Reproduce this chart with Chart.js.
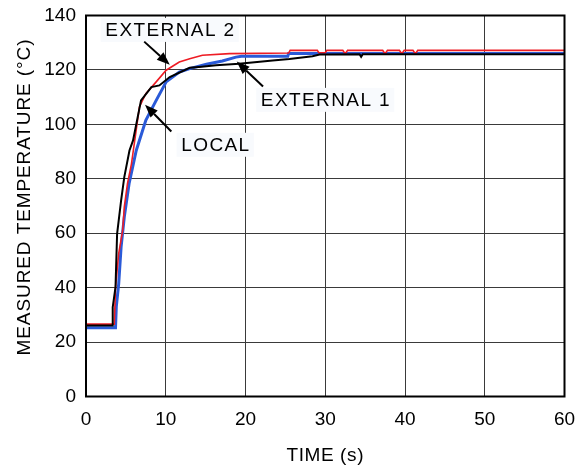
<!DOCTYPE html>
<html>
<head>
<meta charset="utf-8">
<script src="https://cdn.jsdelivr.net/npm/chart.js@4/dist/chart.umd.min.js"></script>
<style>
  html, body { margin: 0; padding: 0; background: #ffffff; }
  #wrap { width: 584px; height: 470px; position: relative; }
</style>
</head>
<body>
<div id="wrap"><canvas id="c" width="584" height="470"></canvas></div>
<script>
// ---- data ----
const xTicks = [0, 10, 20, 30, 40, 50, 60];
const yTicks = [0, 20, 40, 60, 80, 100, 120, 140];

// LOCAL (black)
const localTime = [0, 3.28, 3.35, 3.7, 3.9, 4.4, 4.8, 5.45, 5.9, 6.9, 8.2, 9.2, 10.5, 13.0, 14.5, 16.3, 19.2, 23.4, 25.5, 28.4, 29.3, 34.3, 34.5, 34.7, 60];
const localTemp = [26.1, 26.1, 32.8, 40.2, 59.8, 72.0, 80.6, 90.4, 94.1, 108.8, 113.7, 114.3, 117.4, 120.8, 121.2, 121.7, 122.3, 123.5, 124.0, 125.0, 125.7, 125.8, 124.8, 125.8, 125.8];

// EXTERNAL 2 (red)
const ext2Time = [0, 3.55, 3.7, 4.1, 4.6, 4.8, 5.2, 5.7, 6.7, 7.5, 8.8, 10.05, 11.7, 13.0, 14.6, 18.0, 25.4, 25.6, 29.0, 29.2, 30.0, 30.2, 32.2, 32.4, 32.6, 32.8, 37.2, 37.4, 37.6, 37.8, 39.3, 39.5, 39.7, 39.9, 41.0, 41.2, 41.4, 41.6, 60];
const ext2Temp = [26.6, 26.6, 40.0, 52.5, 61.0, 69.6, 78.2, 85.5, 106.4, 111.3, 115.6, 119.9, 122.9, 124.1, 125.4, 126.0, 126.2, 127.2, 127.2, 126.3, 126.3, 127.2, 127.2, 126.3, 126.3, 127.2, 127.2, 126.3, 126.3, 127.2, 127.2, 126.3, 126.3, 127.2, 127.2, 126.3, 126.3, 127.2, 127.2];

// EXTERNAL 1 (blue)
const ext1Time = [0, 3.7, 3.8, 4.1, 4.4, 4.8, 5.4, 6.3, 7.5, 8.8, 10.05, 11.7, 13.0, 15.1, 17.1, 18.8, 19.5, 25.3, 25.4, 60];
const ext1Temp = [25.3, 25.3, 33.0, 41.4, 54.9, 65.9, 78.2, 90.4, 101.5, 108.8, 115.6, 119.2, 120.5, 122.1, 123.3, 124.7, 125.0, 125.0, 126.0, 126.0];

const xTitle = 'TIME (s)';
const yTitle = 'MEASURED TEMPERATURE (°C)';

// annotation labels: text position and arrow (tail -> head) in data units
const labelText = ['EXTERNAL 2', 'EXTERNAL 1', 'LOCAL'];
const labelPos = [[10.5, 134.7], [30.0, 109.0], [16.2, 92.5]];
const arrowTail = [[7.3, 130.4], [22.2, 113.9], [10.7, 97.4]];
const arrowHead = [[10.5, 121.9], [18.9, 123.1], [7.4, 107.2]];

function pts(xs, ys) { return xs.map((x, i) => ({ x: x, y: ys[i] })); }

const FONT = "'Liberation Sans', Arial, Helvetica, sans-serif";

const decorPlugin = {
  id: 'decor',
  afterDatasetsDraw(chart) {
    const ctx = chart.ctx;
    const xs = chart.scales.x, ys = chart.scales.y;
    const a = chart.chartArea;
    ctx.save();
    // frame
    ctx.strokeStyle = '#000';
    ctx.lineWidth = 2;
    ctx.strokeRect(a.left, a.top, a.right - a.left, a.bottom - a.top);

    // labels
    ctx.font = '19px ' + FONT;
    ctx.textBaseline = 'middle';
    ctx.textAlign = 'center';
    try { ctx.letterSpacing = '1.4px'; } catch (e) {}
    labelText.forEach((t, i) => {
      const px = xs.getPixelForValue(labelPos[i][0]);
      const py = ys.getPixelForValue(labelPos[i][1]);
      const w = ctx.measureText(t).width;
      ctx.fillStyle = '#f8fafd';
      ctx.fillRect(px - w / 2 - 4, py - 12, w + 8, 24);
      ctx.fillStyle = '#000';
      ctx.fillText(t, px + 0.7, py + 1);
    });
    // arrows
    labelText.forEach((t, i) => {
      const x1 = xs.getPixelForValue(arrowTail[i][0]);
      const y1 = ys.getPixelForValue(arrowTail[i][1]);
      const x2 = xs.getPixelForValue(arrowHead[i][0]);
      const y2 = ys.getPixelForValue(arrowHead[i][1]);
      const ang = Math.atan2(y2 - y1, x2 - x1);
      const L = 13, W = 5;
      const bx = x2 - L * Math.cos(ang), by = y2 - L * Math.sin(ang);
      ctx.strokeStyle = '#000';
      ctx.lineWidth = 2;
      ctx.beginPath();
      ctx.moveTo(x1, y1);
      ctx.lineTo(bx, by);
      ctx.stroke();
      ctx.fillStyle = '#000';
      ctx.beginPath();
      ctx.moveTo(x2, y2);
      ctx.lineTo(bx + W * Math.sin(ang), by - W * Math.cos(ang));
      ctx.lineTo(bx - W * Math.sin(ang), by + W * Math.cos(ang));
      ctx.closePath();
      ctx.fill();
    });

    // axis titles
    ctx.fillStyle = '#000';
    try { ctx.letterSpacing = '0.6px'; } catch (e) {}
    ctx.fillText(xTitle, (a.left + a.right) / 2, 456);
    ctx.save();
    try { ctx.letterSpacing = '0.9px'; } catch (e) {}
    ctx.translate(25, (a.top + a.bottom) / 2 - 9);
    ctx.rotate(-Math.PI / 2);
    ctx.fillText(yTitle, 0, 0);
    ctx.restore();
    ctx.restore();
  }
};

new Chart(document.getElementById('c'), {
  type: 'line',
  data: {
    datasets: [
      { label: 'LOCAL', data: pts(localTime, localTemp), borderColor: '#000000', borderWidth: 2, pointRadius: 0, tension: 0, fill: false },
      { label: 'EXTERNAL 2', data: pts(ext2Time, ext2Temp), borderColor: '#ee1c24', borderWidth: 1.6, pointRadius: 0, tension: 0, fill: false },
      { label: 'EXTERNAL 1', data: pts(ext1Time, ext1Temp), borderColor: '#2a5ad8', borderWidth: 3, pointRadius: 0, tension: 0, fill: false }
    ]
  },
  options: {
    responsive: false,
    animation: false,
    devicePixelRatio: 1,
    layout: { padding: { top: 15.5, right: 19.5, left: 0, bottom: 0 } },
    plugins: { legend: { display: false }, tooltip: { enabled: false }, title: { display: false } },
    scales: {
      x: {
        type: 'linear', min: 0, max: 60,
        afterBuildTicks(s) { s.ticks = xTicks.map(v => ({ value: v })); },
        afterFit(s) { s.height = 73.5; s.paddingLeft = 0; s.paddingRight = 0; },
        grid: { color: '#3a3a3a', lineWidth: 1, drawTicks: false },
        border: { display: false },
        ticks: { color: '#000', font: { size: 19, family: FONT }, padding: 12, maxRotation: 0, autoSkip: false }
      },
      y: {
        type: 'linear', min: 0, max: 140,
        afterBuildTicks(s) { s.ticks = yTicks.map(v => ({ value: v })); },
        afterFit(s) { s.width = 86; s.paddingTop = 0; s.paddingBottom = 0; },
        grid: { color: '#3a3a3a', lineWidth: 1, drawTicks: false },
        border: { display: false },
        ticks: { color: '#000', font: { size: 19, family: FONT }, padding: 10, autoSkip: false }
      }
    }
  },
  plugins: [decorPlugin]
});
</script>
</body>
</html>
